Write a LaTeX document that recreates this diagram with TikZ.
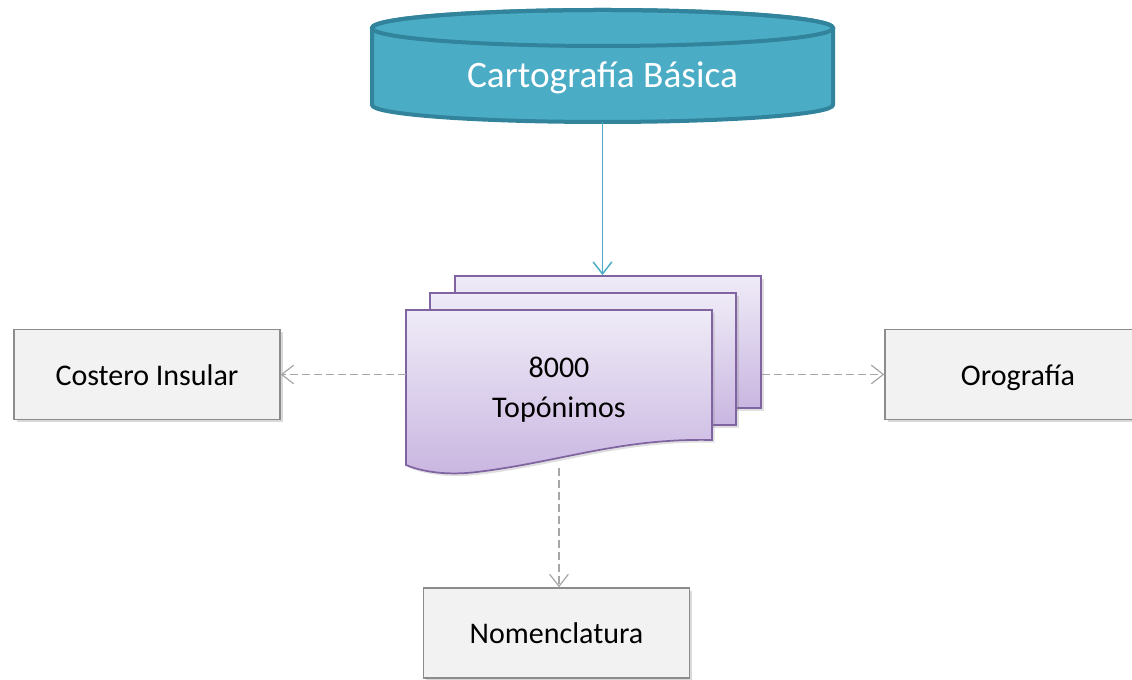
\documentclass[tikz,border=0pt]{standalone}
\usepackage{fontspec}
\setmainfont{Carlito}
\usepackage{xcolor}
\usetikzlibrary{arrows.meta,positioning,shadows}

\definecolor{cylfill}{HTML}{4BACC6}
\definecolor{cylline}{HTML}{31849B}
\definecolor{docline}{HTML}{8064A2}
\definecolor{doctop}{HTML}{EFEBF7}
\definecolor{docbot}{HTML}{C9B6E1}
\definecolor{boxfill}{HTML}{F2F2F2}
\definecolor{boxline}{HTML}{8C8C8C}
\definecolor{flowline}{HTML}{A6A6A6}

\begin{document}
\begin{tikzpicture}[
  x=0.75pt, y=0.75pt,
  every node/.style={font=\fontsize{22.5}{30}\selectfont, align=center},
  leaf/.style={rectangle, draw=boxline, line width=1.1pt, fill=boxfill,
    minimum width=266*0.75pt, minimum height=90*0.75pt, text height=19.2pt, text depth=3.4pt,
    drop shadow={shadow xshift=2pt, shadow yshift=-2pt, opacity=0.3}},
  sheet/.style={rectangle, draw=docline, line width=1.3pt, top color=doctop, bottom color=docbot,
    minimum width=306*0.75pt, minimum height=132*0.75pt, inner sep=0pt,
    drop shadow={shadow xshift=2pt, shadow yshift=-2pt, opacity=0.25}},
  feed/.style={draw=cylfill, line width=1.1pt, -{Straight Barb[length=9pt, width=14pt]}},
  flow/.style={draw=flowline, line width=0.9pt, dash pattern=on 6pt off 3pt,
    -{Straight Barb[length=9pt, width=14pt]}}
]
\useasboundingbox (0,0) rectangle (1132,680);

% DATABASE
\draw[draw=cylline, line width=3pt, fill=cylfill]
  (372,652) -- (372,575) arc[start angle=180, end angle=360, x radius=230.5, y radius=17]
  -- (833,652) arc[start angle=0, end angle=180, x radius=230.5, y radius=18] -- cycle;
\draw[draw=cylline, line width=3pt] (602.5,652) ellipse[x radius=230.5, y radius=18];
\node[text=white, font=\fontsize{28}{34}\selectfont, minimum width=461*0.75pt,
  minimum height=95*0.75pt, inner sep=0pt, text height=24.1pt, text depth=3.9pt]
  (carto) at (602.5,605.5) {Cartograf\'ia B\'asica};

% DOCUMENTS
\node[sheet] (docA) at (608,338) {};
\node[sheet] (docB) at (583,321) {};
\draw[draw=docline, line width=1.3pt, top color=doctop, bottom color=docbot,
  drop shadow={shadow xshift=2pt, shadow yshift=-2pt, opacity=0.25}]
  (406,370) -- (712,370) -- (712,240)
  .. controls (620,242) and (560,218) .. (477,208)
  .. controls (445,204) and (420,209) .. (406,215) -- cycle;
\node[minimum width=306*0.75pt, minimum height=155*0.75pt, inner sep=0pt] (docF) at (559,290)
  {8000\\Top\'onimos};

\draw[feed] (carto.south) -- (carto.south |- docA.north);

% CLASSES
\node[leaf] (cost) at (147,305.5) {Costero Insular};
\node[leaf] (oro) at (1018,305.5) {Orograf\'ia};
\node[leaf] (nomen) at (556.5,47) {Nomenclatura};

\draw[flow] (docF.west |- cost.east) -- (cost.east);
\draw[flow] (docA.east |- oro.west) -- (oro.west);
\draw[flow] (docF.south) -- (docF.south |- nomen.north);

\end{tikzpicture}
\end{document}
